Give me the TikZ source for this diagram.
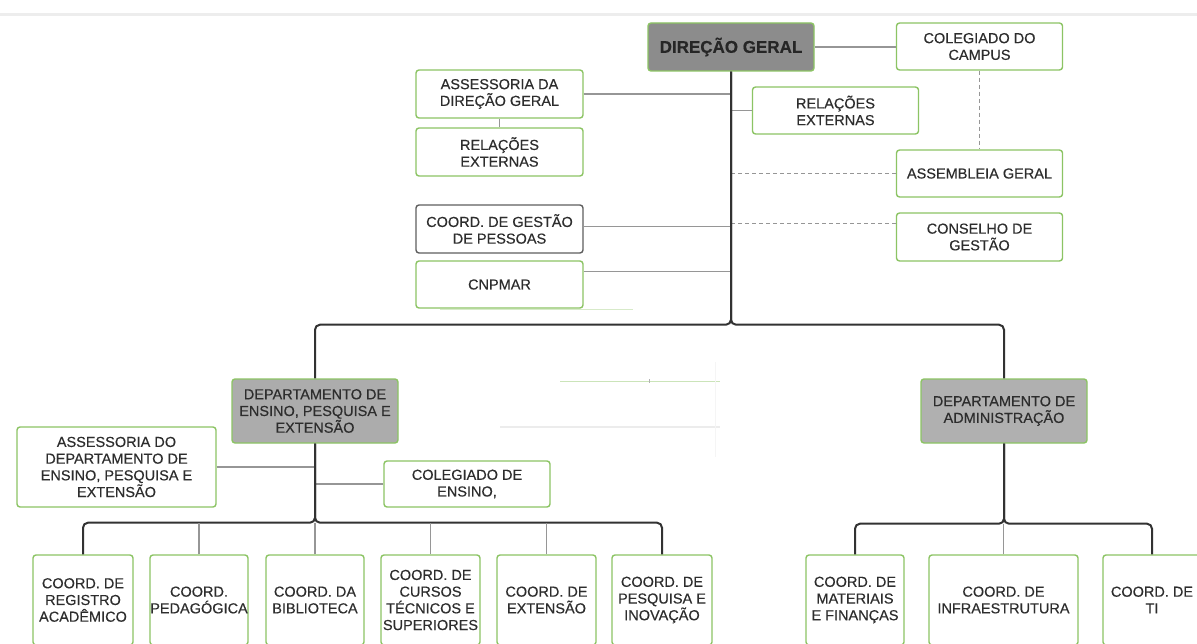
\documentclass[tikz,border=0pt]{standalone}
\usepackage{fontspec}
\setmainfont{Liberation Sans}[FakeBold=0.35]
\usetikzlibrary{calc}
\definecolor{bgreen}{RGB}{140,196,100}
\definecolor{txt}{RGB}{45,45,45}
\definecolor{trunkc}{RGB}{50,50,50}
\definecolor{branchc}{RGB}{150,150,150}
\definecolor{dgfill}{RGB}{140,140,140}
\definecolor{depfill}{RGB}{172,172,172}
\definecolor{cgpborder}{RGB}{95,95,95}
\begin{document}
\begin{tikzpicture}[x=1pt,y=-1pt,
  box/.style={draw=bgreen, line width=1.4pt, fill=white, rounded corners=3pt,
    inner sep=0pt, align=center, text=txt, font=\fontsize{14.5}{16.7}\selectfont},
  hbox/.style={box, minimum width=166, minimum height=47},
  dept/.style={box, fill=depfill, minimum width=166, minimum height=64},
  lowbox/.style={box, minimum width=99, minimum height=90},
  trunk/.style={draw=trunkc, line width=2pt, rounded corners=5pt},
  branch/.style={draw=branchc, line width=1.5pt},
  dashbranch/.style={draw=branchc, line width=1.3pt, dash pattern=on 4pt off 3pt},
]
\fill[white] (0,0) rectangle (1197,644);
\useasboundingbox (0,0) rectangle (1197,644);
% faint screenshot band at top
\draw[gray!14, line width=3pt] (0,15) -- (1197,15);

% ---------- top level ----------
\node[box, fill=dgfill, minimum width=166, minimum height=48,
      font=\bfseries\fontsize{17}{20}\selectfont, text=black!85] (dg) at (731,47) {DIREÇÃO GERAL};
\node[hbox] (colc) at (979.5,46.5) {COLEGIADO DO\\CAMPUS};
\node[hbox, minimum width=167, minimum height=48] (assdg) at (499.5,94) {ASSESSORIA DA\\DIREÇÃO GERAL};
\node[hbox, minimum width=167, minimum height=48] (relL) at (499.5,152) {RELAÇÕES\\EXTERNAS};
\node[hbox] (relR) at (835.5,110.5) {RELAÇÕES\\EXTERNAS};
\node[hbox] (assem) at (979.5,173.5) {ASSEMBLEIA GERAL};
\node[hbox, minimum height=48] (cons) at (979.5,237) {CONSELHO DE\\GESTÃO};
\node[hbox, draw=cgpborder, minimum width=167, minimum height=48] (cgp) at (499.5,229) {COORD. DE GESTÃO\\DE PESSOAS};
\node[hbox, minimum width=167] (cnp) at (499.5,284.5) {CNPMAR};

% faint artifacts
\draw[bgreen!35, line width=1pt] (440,310) -- (633,310);
\draw[bgreen!45, line width=1pt] (560,381) -- (720,381);
\draw[gray!60, line width=1pt] (649,379) -- (649,383);
\draw[gray!15, line width=1.5pt] (500,427) -- (720,427);
\draw[gray!8, line width=1pt] (715,362) -- (715,457);

% ---------- departments ----------
\node[dept] (depte) at (315,411) {DEPARTAMENTO DE\\ENSINO, PESQUISA E\\EXTENSÃO};
\node[dept, fill=depfill!95!white] (depadm) at (1004,411) {DEPARTAMENTO DE\\ADMINISTRAÇÃO};
\node[box, minimum width=199, minimum height=80] (assdep) at (116.5,467) {ASSESSORIA DO\\DEPARTAMENTO DE\\ENSINO, PESQUISA E\\EXTENSÃO};
\node[hbox, minimum height=46] (coleg) at (467,484) {COLEGIADO DE\\ENSINO,};

% ---------- bottom row ----------
\node[lowbox, minimum width=100] (reg) at (83,600) {COORD. DE\\REGISTRO\\ACADÊMICO};
\node[lowbox, minimum width=98] (ped) at (199,600) {COORD.\\PEDAGÓGICA};
\node[lowbox, minimum width=98] (bib) at (315,600) {COORD. DA\\BIBLIOTECA};
\node[lowbox] (cur) at (430.5,600) {COORD. DE\\CURSOS\\TÉCNICOS E\\SUPERIORES};
\node[lowbox] (ext) at (546.5,600) {COORD. DE\\EXTENSÃO};
\node[lowbox, minimum width=100] (pesq) at (662,600) {COORD. DE\\PESQUISA E\\INOVAÇÃO};
\node[lowbox, minimum width=98] (mat) at (855,600) {COORD. DE\\MATERIAIS\\E FINANÇAS};
\node[lowbox, minimum width=149] (infra) at (1003.5,600) {COORD. DE\\INFRAESTRUTURA};
\node[lowbox, minimum width=98] (ti) at (1152,600) {COORD. DE\\TI};

% ---------- junction coordinates ----------
\coordinate (j1) at ($(dg.south)+(0,253)$);
\coordinate (j2) at ($(depte.south)+(0,79)$);
\coordinate (j3) at ($(depadm.south)+(0,80)$);
\coordinate (consin) at ($(cons.north west)+(0,11)$);
\coordinate (cgpout) at ($(cgp.north east)+(0,22)$);
\coordinate (cnpout) at ($(cnp.north east)+(0,11)$);

% ---------- connectors: top ----------
\draw[branch] (dg.east) -- (dg.east -| colc.west);
\draw[branch] (assdg.east) -- (assdg.east -| dg.south);
\draw[branch] (assdg.south) -- (relL.north);
\draw[branch] (relR.west) -- (relR.west -| dg.south);
\draw[dashbranch] (assem.west) -- (assem.west -| dg.south);
\draw[dashbranch] (consin) -- (consin -| dg.south);
\draw[dashbranch] (colc.south) -- (assem.north);
\draw[branch] (cgpout) -- (cgpout -| dg.south);
\draw[branch] (cnpout) -- (cnpout -| dg.south);

\draw[trunk] (dg.south) -- (j1) -| (depte.north);
\draw[trunk] (dg.south) -- (j1) -| (depadm.north);

% ---------- connectors: teaching department ----------
\draw[branch] (assdep.east) -- (assdep.east -| depte.south);
\draw[branch] (coleg.west) -- (coleg.west -| depte.south);
\draw[trunk] (depte.south) -- (j2) -| (reg.north);
\draw[trunk] (depte.south) -- (j2) -| (pesq.north);
\draw[branch] (ped.north) -- (ped.north |- j2);
\draw[branch] (bib.north) -- (j2);
\draw[branch] (cur.north) -- (cur.north |- j2);
\draw[branch] (ext.north) -- (ext.north |- j2);

% ---------- connectors: administration ----------
\draw[trunk] (depadm.south) -- (j3) -| (mat.north);
\draw[trunk] (depadm.south) -- (j3) -| (ti.north);
\draw[branch] (infra.north) -- (infra.north |- j3);
\end{tikzpicture}
\end{document}
